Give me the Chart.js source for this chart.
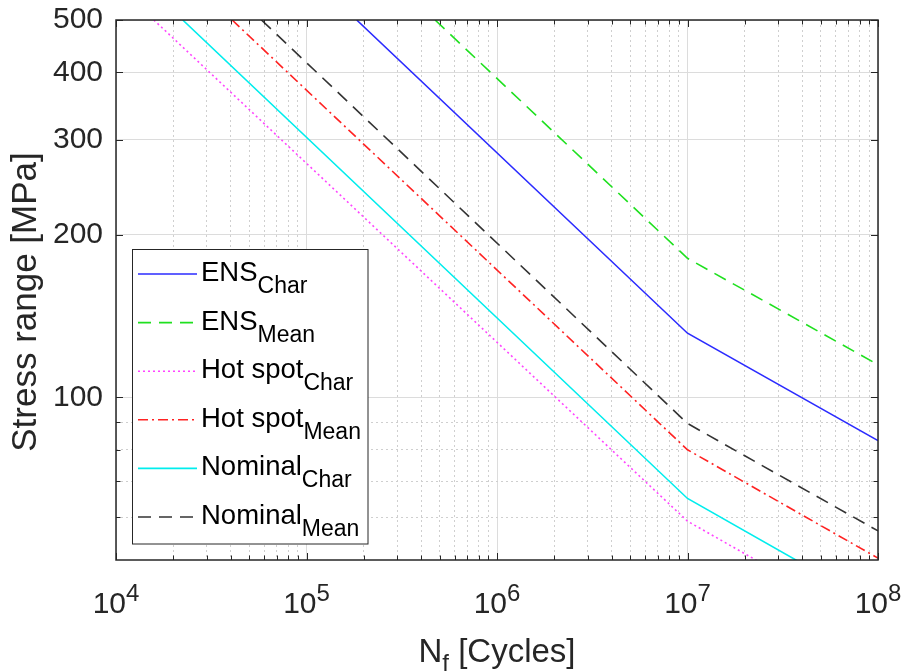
<!DOCTYPE html>
<html><head><meta charset="utf-8">
<script src="https://cdn.jsdelivr.net/npm/chart.js@4.4.1/dist/chart.umd.min.js"></script>
<style>html,body{margin:0;padding:0;background:#fff;} #wrap{width:905px;height:672px;position:relative;}</style>
</head><body><div id="wrap"><canvas id="c" width="905" height="672"></canvas></div>
<script>
// ---- data ----
const ensCharN = [1.834e5, 1e7, 1e8];
const ensCharS = [500, 131.5, 83.2];
const ensMeanN = [4.73e5, 1e7, 1e8];
const ensMeanS = [500, 181, 115];
const hotCharN = [1.58e4, 1e7, 1e8];
const hotCharS = [500, 59, 37.2];
const hotMeanN = [4.07e4, 1e7, 1e8];
const hotMeanS = [500, 80, 50.4];
const nomCharN = [2.24e4, 1e7, 1e8];
const nomCharS = [500, 65, 41];
const nomMeanN = [5.8e4, 1e7, 1e8];
const nomMeanS = [500, 89.5, 56.6];
const seriesNames = ['ENS', 'ENS', 'Hot spot', 'Hot spot', 'Nominal', 'Nominal'];
const seriesSubs = ['Char', 'Mean', 'Char', 'Mean', 'Char', 'Mean'];
const xTickExponents = [4, 5, 6, 7, 8];
const yTickLabels = [100, 200, 300, 400, 500];
const yMinorTicks = [60, 70, 80, 90];
const xTitleMain = 'N', xTitleSub = 'f', xTitleRest = ' [Cycles]';
const yTitle = 'Stress range [MPa]';

// ---- styling ----
const FONT = "'Liberation Sans', Arial, Helvetica, sans-serif";
const AX = '#262626';
const styles = [
  {color: '#2b2bff', dash: []},
  {color: '#1fe01f', dash: [13, 8]},
  {color: '#ff44ff', dash: [2, 3]},
  {color: '#ff2222', dash: [10, 4, 2, 4]},
  {color: '#00eded', dash: []},
  {color: '#333333', dash: [13, 8]}
];
const seriesN = [ensCharN, ensMeanN, hotCharN, hotMeanN, nomCharN, nomMeanN];
const seriesS = [ensCharS, ensMeanS, hotCharS, hotMeanS, nomCharS, nomMeanS];

const datasets = seriesN.map((ns, i) => ({
  label: seriesNames[i] + '_' + seriesSubs[i],
  data: ns.map((n, j) => ({x: n, y: seriesS[i][j]})),
  borderColor: styles[i].color,
  borderDash: styles[i].dash,
  borderWidth: 1.6,
  pointRadius: 0,
  fill: false,
  tension: 0
}));

const xDecades = xTickExponents.map(e => Math.pow(10, e));
const xGridVals = [];
xDecades.forEach((d, k) => {
  xGridVals.push(d);
  if (k < xDecades.length - 1) for (let m = 2; m <= 9; m++) xGridVals.push(m * d);
});
const yGridVals = yMinorTicks.concat(yTickLabels);
const isXMajor = v => xDecades.some(d => Math.abs(d - v) < d * 1e-6);
const isYMajor = v => yTickLabels.includes(Math.round(v));

const framePlugin = {
  id: 'frame',
  afterDatasetsDraw(chart) {
    const {ctx, chartArea: a, scales: {x, y}} = chart;
    ctx.save();
    ctx.strokeStyle = AX;
    ctx.lineWidth = 1;
    ctx.setLineDash([]);
    ctx.beginPath();
    xGridVals.forEach(v => {
      const px = Math.round(x.getPixelForValue(v)) + 0.5;
      const L = isXMajor(v) ? 7 : 4.5;
      ctx.moveTo(px, a.bottom); ctx.lineTo(px, a.bottom - L);
      ctx.moveTo(px, a.top); ctx.lineTo(px, a.top + L);
    });
    yGridVals.forEach(v => {
      const py = Math.round(y.getPixelForValue(v)) + 0.5;
      const L = isYMajor(v) ? 7 : 4.5;
      ctx.moveTo(a.left, py); ctx.lineTo(a.left + L, py);
      ctx.moveTo(a.right, py); ctx.lineTo(a.right - L, py);
    });
    ctx.stroke();
    ctx.lineWidth = 1.5;
    ctx.strokeRect(a.left, a.top, a.right - a.left, a.bottom - a.top);

    // x tick labels 10^n
    ctx.fillStyle = AX;
    ctx.textBaseline = 'alphabetic';
    xTickExponents.forEach((e, k) => {
      const px = x.getPixelForValue(xDecades[k]);
      ctx.font = '30px ' + FONT;
      const w1 = ctx.measureText('10').width;
      ctx.font = '24px ' + FONT;
      const w2 = ctx.measureText(String(e)).width;
      const x0 = px - (w1 + w2) / 2;
      ctx.textAlign = 'left';
      ctx.font = '30px ' + FONT;
      ctx.fillText('10', x0, 613);
      ctx.font = '24px ' + FONT;
      ctx.fillText(String(e), x0 + w1, 601);
    });

    // x title
    ctx.font = '33px ' + FONT;
    const wm = ctx.measureText(xTitleMain).width;
    const wr = ctx.measureText(xTitleRest).width;
    ctx.font = '24px ' + FONT;
    const ws = ctx.measureText(xTitleSub).width;
    const cx = (a.left + a.right) / 2;
    let tx = cx - (wm + ws + wr) / 2;
    ctx.font = '33px ' + FONT;
    ctx.fillText(xTitleMain, tx, 662);
    ctx.font = '24px ' + FONT;
    ctx.fillText(xTitleSub, tx + wm, 671);
    ctx.font = '33px ' + FONT;
    ctx.fillText(xTitleRest, tx + wm + ws, 662);

    // y title
    ctx.save();
    ctx.translate(36, 302);
    ctx.rotate(-Math.PI / 2);
    ctx.textAlign = 'center';
    ctx.font = '35px ' + FONT;
    ctx.fillText(yTitle, 0, 0);
    ctx.restore();
    ctx.restore();
  },
  afterDraw(chart) {
    const {ctx} = chart;
    ctx.save();
    const bx = 132.5, by = 249.5, bw = 235.5, bh = 294.5;
    ctx.fillStyle = '#ffffff';
    ctx.fillRect(bx, by, bw, bh);
    ctx.strokeStyle = AX;
    ctx.lineWidth = 1;
    ctx.setLineDash([]);
    ctx.strokeRect(bx, by, bw, bh);
    chart.data.datasets.forEach((ds, i) => {
      const yc = 274 + i * 48.6;
      ctx.strokeStyle = ds.borderColor;
      ctx.lineWidth = ds.borderWidth;
      ctx.setLineDash(ds.borderDash);
      ctx.beginPath();
      ctx.moveTo(138, yc); ctx.lineTo(197, yc);
      ctx.stroke();
      ctx.setLineDash([]);
      ctx.fillStyle = '#000000';
      ctx.textAlign = 'left';
      ctx.textBaseline = 'alphabetic';
      ctx.font = '27.5px ' + FONT;
      ctx.fillText(seriesNames[i], 201, yc + 7);
      const w = ctx.measureText(seriesNames[i]).width;
      ctx.font = '23px ' + FONT;
      ctx.fillText(seriesSubs[i], 201 + w, yc + 19);
    });
    ctx.restore();
  }
};

new Chart(document.getElementById('c'), {
  type: 'line',
  data: {datasets},
  plugins: [framePlugin],
  options: {
    responsive: false,
    animation: false,
    devicePixelRatio: 1,
    layout: {padding: {top: 20, right: 27, left: 0, bottom: 0}},
    plugins: {legend: {display: false}, tooltip: {enabled: false}},
    elements: {point: {radius: 0}},
    scales: {
      x: {
        type: 'logarithmic', min: 1e4, max: 1e8, position: 'bottom',
        afterBuildTicks: s => { s.ticks = xGridVals.map(v => ({value: v})); },
        afterFit: s => { s.height = 112; s.paddingLeft = 0; s.paddingRight = 0; },
        ticks: {display: false, autoSkip: false},
        grid: {drawTicks: false, lineWidth: 1,
               color: c => (c.tick && isXMajor(c.tick.value)) ? '#dcdcdc' : '#cfcfcf'},
        border: {display: false,
                 dash: c => (c.tick && !isXMajor(c.tick.value)) ? [2, 3] : []}
      },
      y: {
        type: 'logarithmic', min: 50, max: 500, position: 'left',
        afterBuildTicks: s => { s.ticks = yGridVals.map(v => ({value: v})); },
        afterFit: s => { s.width = 116; s.paddingTop = 0; s.paddingBottom = 0; },
        ticks: {
          autoSkip: false, padding: 13, color: AX,
          font: {family: FONT, size: 30},
          callback: v => isYMajor(v) ? String(Math.round(v)) : ''
        },
        grid: {drawTicks: false, lineWidth: 1,
               color: c => (c.tick && isYMajor(c.tick.value)) ? '#dcdcdc' : '#cfcfcf'},
        border: {display: false,
                 dash: c => (c.tick && !isYMajor(c.tick.value)) ? [2, 3] : []}
      }
    }
  }
});
</script>
</body></html>
